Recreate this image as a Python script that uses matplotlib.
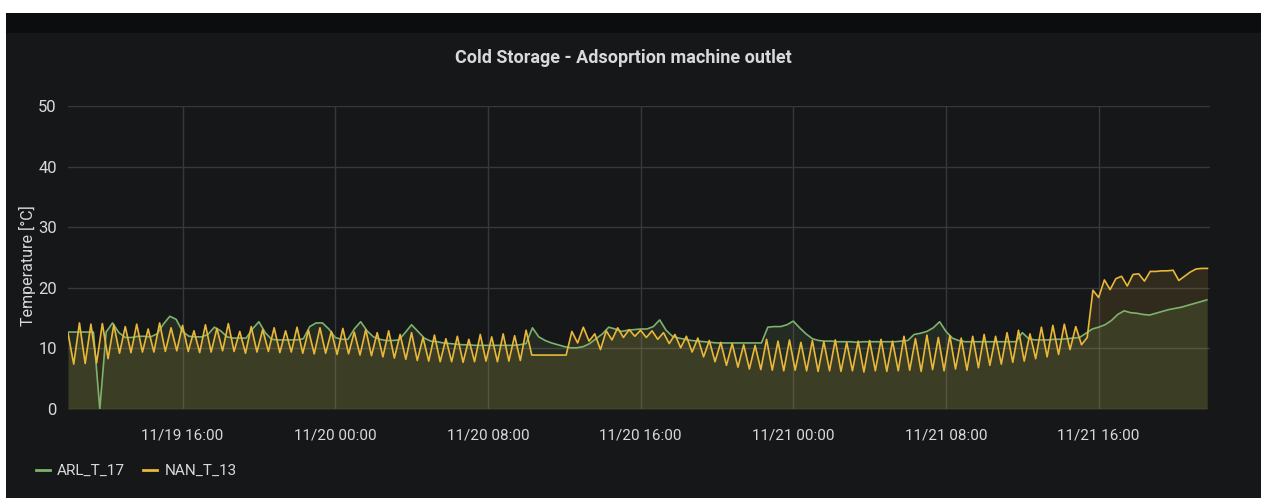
import numpy as np
import pandas as pd
import matplotlib
matplotlib.use("Agg")
import matplotlib.pyplot as plt
import matplotlib.dates as mdates
from matplotlib.patches import Rectangle

plt.rcParams['font.family'] = ['Roboto', 'DejaVu Sans']

title = "Cold Storage - Adsoprtion machine outlet"
ylabel = "Temperature [°C]"
series_names = ["ARL_T_17", "NAN_T_13"]
start = "2019-11-19 10:00"

# ARL_T_17, one sample every 20 min
arl_t_17 = [
    12.7, 12.7, 12.7, 12.7, 12.7, 0.0,
    12.7, 14.2, 12.6, 11.8, 11.8, 12.0,
    12.0, 11.9, 12.4, 14.0, 15.3, 14.8,
    12.8, 12.0, 11.9, 11.9, 12.3, 13.5,
    12.9, 11.9, 11.7, 11.7, 11.7, 13.2,
    14.4, 12.6, 11.5, 11.4, 11.4, 11.4,
    11.4, 11.6, 13.6, 14.2, 14.2, 13.2,
    11.8, 11.5, 11.5, 13.2, 14.4, 12.9,
    11.9, 11.5, 11.3, 11.3, 11.4, 12.6,
    13.9, 12.8, 11.7, 11.2, 11.1, 10.9,
    10.8, 10.7, 10.6, 10.6, 10.5, 10.5,
    10.5, 10.5, 10.5, 10.5, 10.5, 10.6,
    10.8, 13.4, 11.9, 11.3, 10.9, 10.6,
    10.3, 10.1, 10.1, 10.3, 10.8, 11.6,
    12.4, 13.5, 13.2, 12.8, 13.0, 13.1,
    13.2, 13.2, 13.6, 14.7, 13.0, 12.0,
    11.7, 11.5, 11.3, 11.2, 11.1, 11.0,
    10.9, 10.9, 10.9, 10.9, 10.9, 10.9,
    10.9, 10.9, 13.5, 13.6, 13.6, 13.9,
    14.5, 13.4, 12.4, 11.6, 11.3, 11.2,
    11.2, 11.1, 11.1, 11.1, 11.0, 11.1,
    11.1, 11.1, 11.1, 11.1, 11.1, 11.2,
    11.3, 12.3, 12.5, 12.8, 13.4, 14.4,
    12.8, 11.7, 11.3, 11.1, 11.1, 11.1,
    11.1, 11.1, 11.1, 11.1, 11.1, 11.1,
    12.6, 11.6, 11.4, 11.4, 11.4, 11.5,
    11.5, 11.6, 11.7, 11.8, 12.5, 13.2,
    13.5, 13.9, 14.6, 15.6, 16.2, 15.9,
    15.8, 15.6, 15.5, 15.8, 16.1, 16.4,
    16.6, 16.8, 17.1, 17.4, 17.7, 18.0,
]

# NAN_T_13, one sample every 18 min (10 per row = 3 h)
nan_t_13 = [
    12.5, 7.4, 14.2, 7.5, 14.0, 7.6, 14.1, 8.3, 13.9, 9.2,
    13.6, 9.3, 14.0, 9.4, 13.2, 9.4, 14.2, 9.5, 13.4, 9.6,
    13.8, 9.5, 12.9, 9.3, 13.9, 9.4, 13.3, 9.6, 14.1, 9.5,
    12.8, 9.2, 13.6, 9.4, 13.1, 9.5, 13.4, 9.3, 12.9, 9.4,
    13.5, 9.2, 13.0, 9.1, 13.4, 9.2, 12.8, 9.0, 13.3, 9.1,
    12.7, 8.9, 13.1, 8.8, 12.6, 8.6, 12.9, 8.4, 12.3, 8.2,
    12.6, 8.0, 11.8, 7.9, 12.2, 7.8, 11.6, 7.8, 12.0, 7.7,
    11.5, 7.8, 12.3, 7.9, 11.9, 7.8, 12.4, 7.9, 12.1, 8.0,
    13.0, 8.9, 8.9, 8.9, 8.9, 8.9, 8.9, 8.9, 12.8, 10.9,
    13.5, 11.2, 12.4, 9.8, 12.9, 11.4, 13.4, 11.8, 13.1, 12.0,
    13.0, 11.8, 12.9, 11.5, 12.6, 10.8, 12.3, 10.1, 12.0, 9.4,
    11.7, 8.6, 11.3, 7.8, 11.0, 7.2, 10.8, 6.9, 10.6, 6.6,
    10.5, 6.5, 11.5, 6.4, 11.2, 6.3, 11.4, 6.4, 11.0, 6.3,
    11.3, 6.2, 11.1, 6.3, 11.4, 6.2, 11.0, 6.3, 11.2, 6.1,
    11.3, 6.3, 11.5, 6.2, 11.2, 6.3, 12.0, 6.4, 11.6, 6.2,
    12.2, 6.5, 11.8, 6.3, 12.1, 6.6, 11.7, 6.4, 12.0, 6.8,
    12.3, 7.2, 12.0, 7.4, 12.6, 7.7, 13.0, 7.9, 12.4, 8.3,
    13.5, 8.6, 13.8, 9.0, 14.0, 9.8, 13.6, 10.6, 11.8, 19.6,
    18.4, 21.3, 19.7, 21.5, 21.9, 20.3, 22.2, 22.3, 21.1, 22.7,
    22.7, 22.8, 22.8, 22.9, 21.2, 21.9, 22.6, 23.1, 23.2, 23.2,
]

ticks = ["2019-11-19 16:00", "2019-11-20 00:00", "2019-11-20 08:00",
         "2019-11-20 16:00", "2019-11-21 00:00", "2019-11-21 08:00",
         "2019-11-21 16:00"]
yticks = [0, 10, 20, 30, 40, 50]

arl_times = pd.date_range(start, periods=len(arl_t_17), freq="20min")
nan_times = pd.date_range(start, periods=len(nan_t_13), freq="18min")

bg = "#161719"
txt = "#d8d9da"
grid = "#37383c"
colors = ["#7eb26d", "#eab839"]

fig = plt.figure(figsize=(12.61, 4.98), dpi=100, facecolor="white")
# panel background and header strip
fig.patches.append(Rectangle((6 / 1261, 0), 1, 1 - 13 / 498, transform=fig.transFigure,
                             facecolor=bg, edgecolor="none", zorder=-2))
fig.patches.append(Rectangle((6 / 1261, 1 - 33 / 498), 1, 20 / 498, transform=fig.transFigure,
                             facecolor="#0c0d0f", edgecolor="none", zorder=-1))

ax = fig.add_axes([68 / 1261, 1 - 409 / 498, 1142 / 1261, 303 / 498])
ax.set_facecolor(bg)

for t, vals, c, name in zip([arl_times, nan_times], [arl_t_17, nan_t_13], colors, series_names):
    ax.fill_between(t, 0, vals, color=c, alpha=0.13, linewidth=0)
    ax.plot(t, vals, color=c, lw=1.2, label=name)

ax.set_xlim(pd.Timestamp(start), pd.Timestamp("2019-11-21 21:50"))
ax.set_ylim(0, 50)
ax.set_yticks(yticks)
ax.set_xticks(pd.to_datetime(ticks))
ax.xaxis.set_major_formatter(mdates.DateFormatter("%m/%d %H:%M"))
ax.grid(True, color=grid, lw=1)
ax.set_axisbelow(True)
for s in ax.spines.values():
    s.set_visible(False)
ax.tick_params(colors=txt, length=0, labelsize=11)
ax.tick_params(axis="x", pad=14)
ax.tick_params(axis="y", labelsize=12, pad=8)

fig.text(27 / 1261, 1 - 266 / 498, ylabel, rotation=90, color=txt, fontsize=11.5,
         ha="center", va="center")
fig.text(623 / 1261, 1 - 58 / 498, title, color=txt, fontsize=13, fontweight="bold",
         ha="center", va="center")

leg = fig.legend(loc="center left", bbox_to_anchor=(22 / 1261, 1 - 471 / 498), ncol=2,
                 frameon=False, handlelength=0.9, handletextpad=0.5, columnspacing=1.2,
                 fontsize=11, labelcolor=txt)
for h in leg.get_lines():
    h.set_linewidth(2)

fig.savefig("out.png", dpi=100, facecolor=fig.get_facecolor())
